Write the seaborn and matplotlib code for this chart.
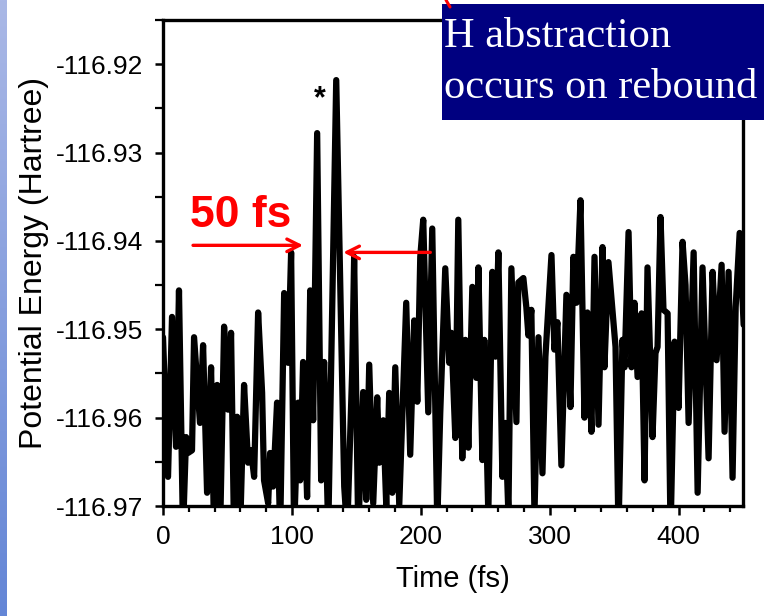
import numpy as np
import pandas as pd
import matplotlib
matplotlib.use("Agg")
import matplotlib.pyplot as plt
from matplotlib.patches import Rectangle
from matplotlib.lines import Line2D
import seaborn as sns

# ---- data ----
time_fs = [0, 3.9, 7.0, 10.1, 12.4, 15.5, 17.9, 19.4, 22.5, 24.1, 28.7, 31.1, 34.2, 37.3, 39.6,
           42.0, 44.3, 47.4, 50.5, 52.8, 55.1, 57.5, 59.8, 62.9, 66.0, 68.3, 70.7, 73.8, 76.9,
           78.4, 81.6, 83.1, 85.4, 88.5, 90.9, 94.0, 97.1, 99.4, 101.7, 104.9, 106.4, 108.7,
           111.8, 114.2, 116.5, 119.6, 122.7, 125.0, 128.2, 134.4, 140.6, 142.9, 146.8, 148.3,
           151.5, 155.3, 157.7, 160.0, 163.1, 166.2, 167.8, 170.9, 173.2, 175.5, 177.9, 180.2,
           183.3, 188.7, 191.8, 194.9, 197.3, 199.6, 201.9, 205.8, 208.9, 212.8, 215.1, 219.0,
           222.1, 223.7, 226.8, 229.1, 232.2, 234.6, 236.9, 240.0, 243.1, 244.7, 247.8, 249.3,
           252.4, 255.5, 257.9, 260.2, 263.3, 265.6, 268.0, 270.3, 274.2, 275.7, 279.6, 281.9,
           283.5, 285.8, 288.2, 291.3, 294.4, 296.7, 301.4, 303.7, 306.0, 309.1, 313.0, 316.1,
           318.4, 320.8, 323.9, 327.0, 329.3, 332.4, 334.8, 337.9, 341.0, 342.5, 345.6, 348.7,
           351.1, 353.4, 356.5, 358.1, 361.2, 363.5, 365.8, 368.2, 371.3, 373.6, 375.9, 379.8,
           382.1, 383.7, 386.0, 388.3, 391.5, 393.8, 396.9, 400.0, 403.1, 405.4, 407.8, 411.7,
           414.8, 418.6, 423.3, 426.4, 429.5, 433.4, 435.7, 438.8, 441.9, 444.3, 447.4, 450.5]
energy_hartree = [-116.9509, -116.9667, -116.9486, -116.9633, -116.9456, -116.9730, -116.9622,
                  -116.9640, -116.9637, -116.9509, -116.9606, -116.9518, -116.9685, -116.9543,
                  -116.9730, -116.9563, -116.9730, -116.9497, -116.9591, -116.9504, -116.9730,
                  -116.9599, -116.9730, -116.9563, -116.9651, -116.9637, -116.9667, -116.9481,
                  -116.9572, -116.9671, -116.9697, -116.9640, -116.9678, -116.9583, -116.9730,
                  -116.9459, -116.9538, -116.9413, -116.9730, -116.9583, -116.9671, -116.9537,
                  -116.9690, -116.9456, -116.9603, -116.9278, -116.9671, -116.9537, -116.9730,
                  -116.9218, -116.9678, -116.9730, -116.9546, -116.9418, -116.9730, -116.9571,
                  -116.9693, -116.9540, -116.9697, -116.9577, -116.9651, -116.9603, -116.9699,
                  -116.9572, -116.9685, -116.9543, -116.9699, -116.9470, -116.9642, -116.9490,
                  -116.9582, -116.9418, -116.9376, -116.9594, -116.9386, -116.9720, -116.9595,
                  -116.9431, -116.9538, -116.9504, -116.9623, -116.9376, -116.9646, -116.9512,
                  -116.9634, -116.9452, -116.9555, -116.9430, -116.9648, -116.9512, -116.9710,
                  -116.9435, -116.9531, -116.9413, -116.9667, -116.9606, -116.9710, -116.9431,
                  -116.9605, -116.9447, -116.9442, -116.9475, -116.9507, -116.9478, -116.9710,
                  -116.9509, -116.9663, -116.9531, -116.9416, -116.9523, -116.9492, -116.9654,
                  -116.9461, -116.9588, -116.9418, -116.9470, -116.9354, -116.9600, -116.9481,
                  -116.9616, -116.9418, -116.9608, -116.9407, -116.9543, -116.9424, -116.9478,
                  -116.9520, -116.9730, -116.9512, -116.9543, -116.9390, -116.9543, -116.9470,
                  -116.9554, -116.9482, -116.9671, -116.9430, -116.9622, -116.9527, -116.9520,
                  -116.9373, -116.9478, -116.9482, -116.9730, -116.9514, -116.9589, -116.9401,
                  -116.9450, -116.9606, -116.9413, -116.9685, -116.9430, -116.9646, -116.9435,
                  -116.9535, -116.9427, -116.9616, -116.9435, -116.9668, -116.9475, -116.9391,
                  -116.9495]
x_ticks = [0, 100, 200, 300, 400]
y_ticks = [-116.97, -116.96, -116.95, -116.94, -116.93, -116.92]
y_tick_labels = ["-116.97", "-116.96", "-116.95", "-116.94", "-116.93", "-116.92"]

df = pd.DataFrame({"Time (fs)": time_fs, "Energy": energy_hartree})

sns.set_style("ticks")
plt.rcParams["font.family"] = ["Liberation Sans", "DejaVu Sans"]
plt.rcParams["text.color"] = "black"
plt.rcParams["axes.labelcolor"] = "black"

fig = plt.figure(figsize=(7.64, 6.16), dpi=100)
fig.patch.set_facecolor("white")
ax = fig.add_axes([163 / 764, 1 - 506 / 616, 580 / 764, 486 / 616])

sns.lineplot(data=df, x="Time (fs)", y="Energy", ax=ax, color="black",
             sort=False, estimator=None)
for ln in ax.lines:
    ln.set_linewidth(4.5)
    ln.set_solid_joinstyle("round")
    ln.set_solid_capstyle("round")

ax.set_xlim(0, 450)
ax.set_ylim(-116.97, -116.915)
ax.set_xticks(x_ticks)
ax.set_xticklabels([str(v) for v in x_ticks])
ax.set_yticks(y_ticks)
ax.set_yticklabels(y_tick_labels)
ax.set_xticks(np.arange(0, 451, 20), minor=True)
ax.set_yticks(np.arange(-116.97, -116.914, 0.005), minor=True)

for s in ax.spines.values():
    s.set_linewidth(2.4)
    s.set_color("black")
    s.set_zorder(3)
ax.tick_params(axis="both", which="both", direction="out", colors="black")
ax.tick_params(axis="both", which="major", width=1.8, labelsize=19)
ax.tick_params(axis="x", which="major", length=6.5, pad=7)
ax.tick_params(axis="y", which="major", length=6, pad=8)
ax.tick_params(axis="x", which="minor", length=4.5, width=1.6)
ax.tick_params(axis="y", which="minor", length=5.5, width=1.6)

ax.set_xlabel("Time (fs)", fontsize=21, labelpad=12, color="black")
ax.set_ylabel("Potential Energy (Hartree)", fontsize=23, labelpad=5, color="black")

# annotations
ax.text(21, -116.9384, "50 fs", color="#ff0000", fontsize=32, fontweight="bold",
        ha="left", va="baseline")
ax.text(122, -116.9240, "*", color="black", fontsize=22, fontweight="bold",
        ha="center", va="center")
arrow_kw = dict(arrowstyle="->,head_length=0.9,head_width=0.45", color="#ff0000", lw=2.4,
                shrinkA=0, shrinkB=0)
ax.annotate("", xy=(108.7, -116.9405), xytext=(23.3, -116.9405), arrowprops=arrow_kw)
ax.annotate("", xy=(139.8, -116.9413), xytext=(207.4, -116.9413), arrowprops=arrow_kw)

# navy callout box
fig.patches.append(Rectangle((442 / 764, 1 - 120 / 616), 1 - 442 / 764, 116 / 616,
                             transform=fig.transFigure, facecolor="#000080",
                             edgecolor="none", zorder=5))
fig.text(444 / 764, 1 - 47 / 616, "H abstraction", color="white", fontsize=30.5,
         family=["Liberation Serif", "DejaVu Serif"], va="baseline", ha="left", zorder=6)
fig.text(444 / 764, 1 - 98 / 616, "occurs on rebound", color="white", fontsize=30.5,
         family=["Liberation Serif", "DejaVu Serif"], va="baseline", ha="left", zorder=6)
fig.lines.append(Line2D([446 / 764, 450 / 764], [1.0, 1 - 7 / 616], transform=fig.transFigure,
                        color="#ff0000", lw=2.2, zorder=6))

# left gradient strip
gax = fig.add_axes([0, 0, 7 / 764, 1])
grad = np.linspace(0, 1, 256).reshape(-1, 1)
cmap = matplotlib.colors.LinearSegmentedColormap.from_list("g", ["#aab8e6", "#6486d6"])
gax.imshow(grad, aspect="auto", cmap=cmap, origin="upper")
gax.set_axis_off()

fig.savefig("out.png", dpi=100)
